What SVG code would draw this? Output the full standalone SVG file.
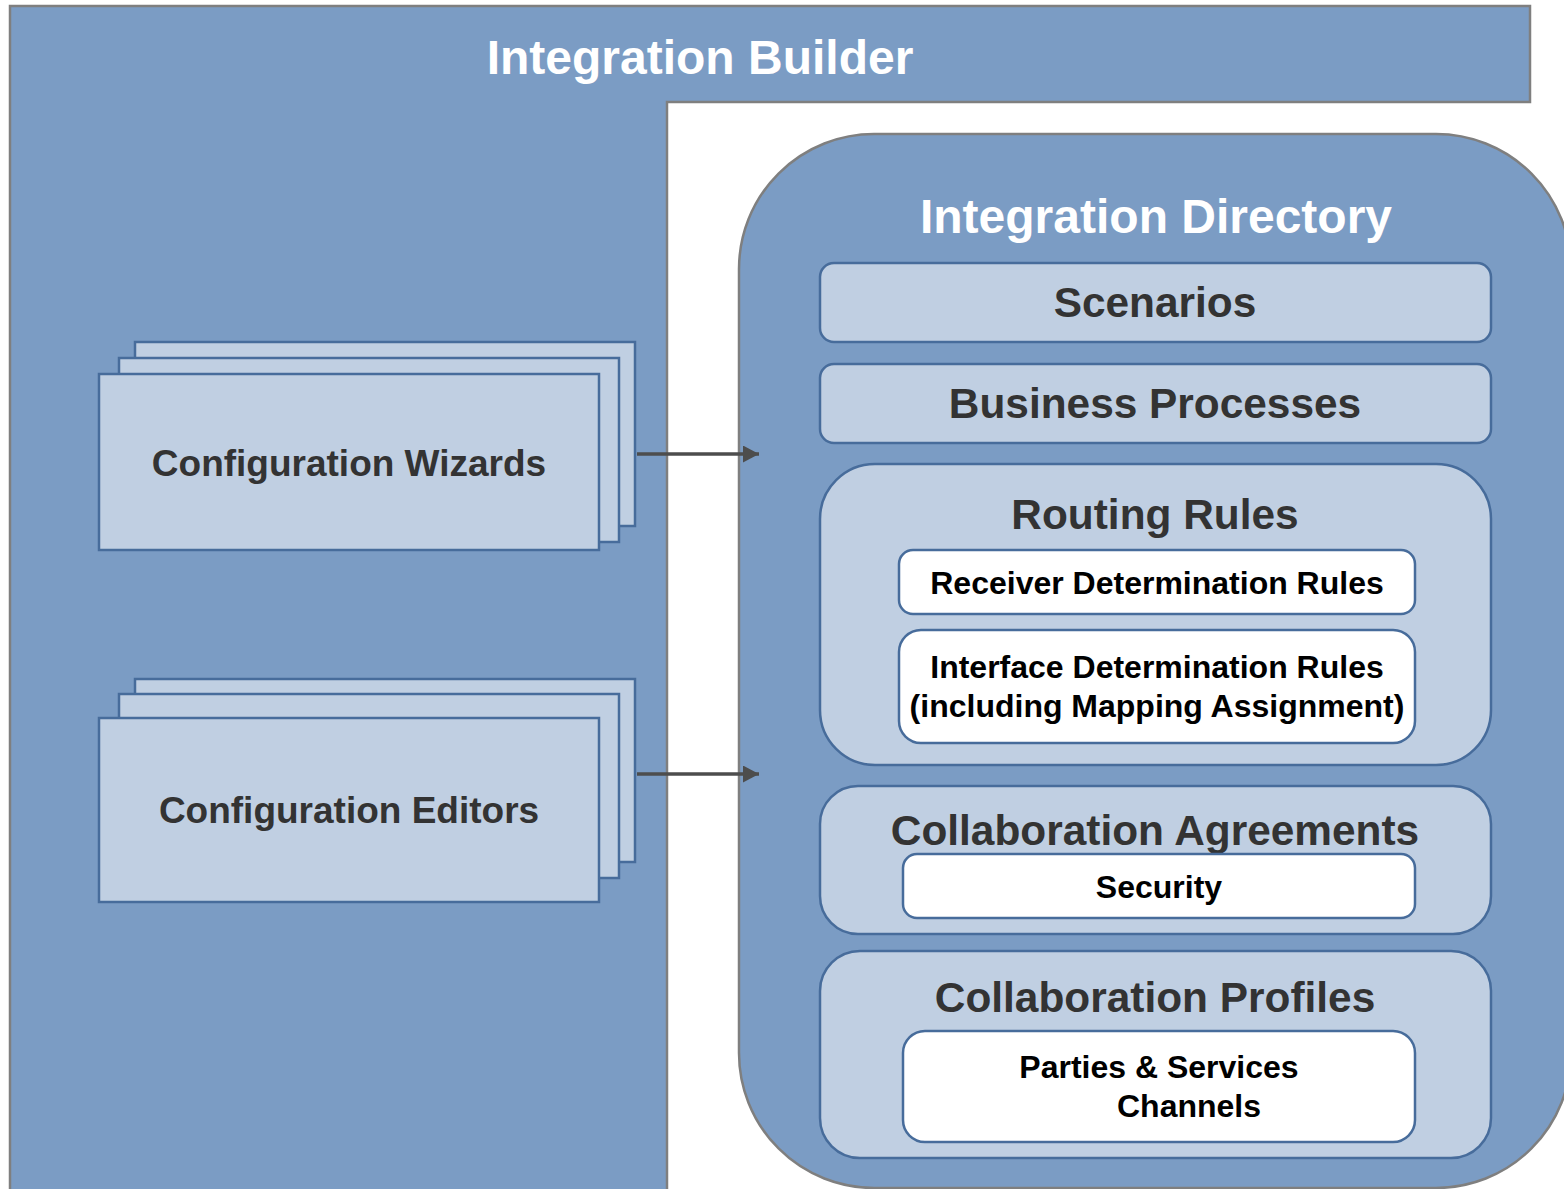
<svg xmlns="http://www.w3.org/2000/svg" width="1564" height="1189" viewBox="0 0 1564 1189">
<defs>
<style>
.frame{fill:#7b9cc4;stroke:#7f7f7f;stroke-width:2.5}
.box{fill:#c0cfe2;stroke:#476c9b;stroke-width:2.5}
.wbox{fill:#ffffff;stroke:#476c9b;stroke-width:2.5}
.t{font-family:"Liberation Sans",Arial,sans-serif;font-weight:bold;text-anchor:middle}
.white{fill:#ffffff;font-size:48px}
.head{fill:#333333;font-size:42.4px}
.stk{fill:#333333;font-size:37px}
.sub{fill:#000000;font-size:32px}
.conn{stroke:#4d4d4d;stroke-width:3.5;fill:none}
</style>
<marker id="arr" markerUnits="userSpaceOnUse" markerWidth="17" markerHeight="17" refX="16" refY="8.5" orient="auto">
<path d="M0,0 L16,8.5 L0,17 Z" fill="#4d4d4d"/>
</marker>
</defs>
<rect width="1564" height="1189" fill="#ffffff"/>
<g id="integration-builder">
<polygon class="frame" points="10,6 1530,6 1530,102 667,102 667,1196 10,1196"/>
<text class="t white" x="700" y="74">Integration Builder</text>
</g>
<g id="integration-directory">
<rect class="frame" x="739" y="134" width="832" height="1054" rx="135" ry="135"/>
<text class="t white" x="1156" y="233">Integration Directory</text>
</g>
<g id="scenarios">
<rect class="box" x="820" y="263" width="671" height="79" rx="14"/>
<text class="t head" x="1155" y="317">Scenarios</text>
</g>
<g id="business-processes">
<rect class="box" x="820" y="364" width="671" height="79" rx="14"/>
<text class="t head" x="1155" y="418">Business Processes</text>
</g>
<g id="routing-rules">
<rect class="box" x="820" y="464" width="671" height="301" rx="55"/>
<text class="t head" x="1155" y="529">Routing Rules</text>
</g>
<g id="receiver-determination-rules">
<rect class="wbox" x="899" y="550" width="516" height="64" rx="14"/>
<text class="t sub" x="1157" y="594">Receiver Determination Rules</text>
</g>
<g id="interface-determination-rules">
<rect class="wbox" x="899" y="630" width="516" height="113" rx="22"/>
<text class="t sub" x="1157" y="678">Interface Determination Rules</text>
<text class="t sub" x="1157" y="717">(including Mapping Assignment)</text>
</g>
<g id="collaboration-agreements">
<rect class="box" x="820" y="786" width="671" height="148" rx="38"/>
<text class="t head" x="1155" y="845">Collaboration Agreements</text>
</g>
<g id="security">
<rect class="wbox" x="903" y="854" width="512" height="64" rx="14"/>
<text class="t sub" x="1159" y="898">Security</text>
</g>
<g id="collaboration-profiles">
<rect class="box" x="820" y="951" width="671" height="207" rx="40"/>
<text class="t head" x="1155" y="1012">Collaboration Profiles</text>
</g>
<g id="parties-services-channels">
<rect class="wbox" x="903" y="1031" width="512" height="111" rx="22"/>
<text class="t sub" x="1159" y="1078">Parties &amp; Services</text>
<text class="t sub" x="1189" y="1117">Channels</text>
</g>
<g id="configuration-wizards">
<rect class="box" x="135" y="342" width="500" height="184"/>
<rect class="box" x="119" y="358" width="500" height="184"/>
<rect class="box" x="99" y="374" width="500" height="176"/>
<text class="t stk" x="349" y="476">Configuration Wizards</text>
</g>
<g id="configuration-editors">
<rect class="box" x="135" y="679" width="500" height="183"/>
<rect class="box" x="119" y="694" width="500" height="184"/>
<rect class="box" x="99" y="718" width="500" height="184"/>
<text class="t stk" x="349" y="823">Configuration Editors</text>
</g>
<g id="connectors">
<line class="conn" x1="637" y1="454" x2="759" y2="454" marker-end="url(#arr)"/>
<line class="conn" x1="637" y1="774" x2="759" y2="774" marker-end="url(#arr)"/>
</g>
</svg>
